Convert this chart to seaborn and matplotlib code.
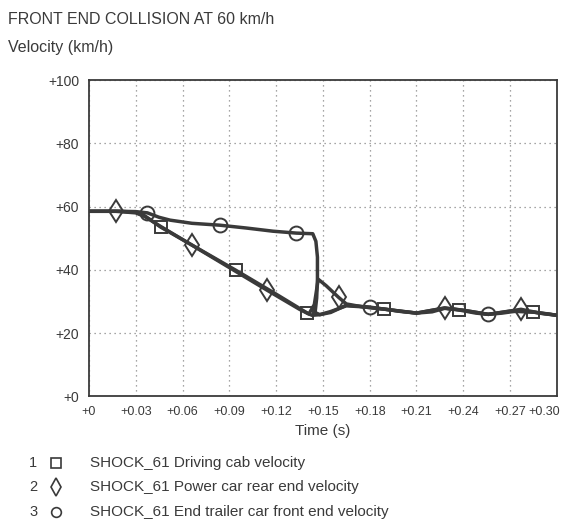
import numpy as np
import pandas as pd
import seaborn as sns
import matplotlib
matplotlib.use("Agg")
import matplotlib.pyplot as plt
from matplotlib.lines import Line2D
from matplotlib.transforms import ScaledTranslation

# Driving cab velocity (square markers)
t_cab = [0, 0.02, 0.03, 0.036, 0.046, 0.07, 0.094, 0.12, 0.140, 0.143, 0.148, 0.155,
         0.165, 0.175, 0.189, 0.20, 0.21, 0.22, 0.228, 0.237, 0.248, 0.256, 0.265,
         0.275, 0.285, 0.295, 0.30]
v_cab = [58.5, 58.5, 58.2, 57.0, 53.5, 46.7, 39.9, 32.3, 26.3, 25.6, 25.8, 26.8,
         28.6, 28.3, 27.6, 26.8, 26.3, 26.7, 27.8, 27.3, 26.3, 25.9, 26.3,
         27.0, 26.6, 26.0, 25.6]
mk_cab = [4, 6, 8, 14, 19, 24]

# Power car rear end velocity (diamond markers)
t_pc = [0, 0.0173, 0.03, 0.036, 0.045, 0.066, 0.09, 0.114, 0.135, 0.141, 0.1445,
        0.147, 0.152, 0.160, 0.165, 0.175, 0.19, 0.21, 0.228, 0.24, 0.256, 0.277,
        0.29, 0.30]
v_pc = [58.5, 58.5, 58.0, 56.8, 54.0, 47.8, 40.7, 33.6, 27.5, 26.0, 29.0,
        37.0, 35.0, 31.3, 29.2, 28.3, 27.5, 26.3, 27.9, 27.2, 25.9, 27.5,
        26.2, 25.6]
mk_pc = [1, 5, 7, 13, 18, 21]

# End trailer car front end velocity (circle markers)
t_tr = [0, 0.02, 0.03, 0.0375, 0.045, 0.052, 0.066, 0.084, 0.101, 0.118, 0.133,
        0.1435, 0.1455, 0.1465, 0.1465, 0.146, 0.145, 0.148, 0.155, 0.165, 0.180,
        0.19, 0.21, 0.228, 0.24, 0.256, 0.27, 0.285, 0.30]
v_tr = [58.5, 58.5, 58.4, 58.0, 56.6, 55.7, 54.7, 54.1, 53.2, 52.2, 51.6,
        51.4, 49.0, 44.0, 37.0, 31.0, 26.5, 25.8, 26.5, 28.8, 28.2,
        27.5, 26.3, 27.9, 27.2, 25.9, 26.9, 26.6, 25.6]
mk_tr = [3, 7, 10, 20, 25]

x_ticks = [0, 0.03, 0.06, 0.09, 0.12, 0.15, 0.18, 0.21, 0.24, 0.27, 0.30]
x_labels = ["+0", "+0.03", "+0.06", "+0.09", "+0.12", "+0.15", "+0.18",
            "+0.21", "+0.24", "+0.27", "+0.30"]
y_ticks = [0, 20, 40, 60, 80, 100]
y_labels = ["+0", "+20", "+40", "+60", "+80", "+100"]

legend_nums = ["1", "2", "3"]
legend_names = ["SHOCK_61 Driving cab velocity",
                "SHOCK_61 Power car rear end velocity",
                "SHOCK_61 End trailer car front end velocity"]

sns.set_style("white")
plt.rcParams["font.family"] = ["Liberation Sans", "DejaVu Sans"]

ink = "#3a3a3a"
fig = plt.figure(figsize=(5.7, 5.2), dpi=100)
ax = fig.add_axes([0.156, 0.238, 0.821, 0.608])

series = [(t_cab, v_cab, mk_cab, "s", 8.5),
          (t_pc, v_pc, mk_pc, "d", 11.5),
          (t_tr, v_tr, mk_tr, "o", 10)]

for t, v, mk, m, ms in series:
    df = pd.DataFrame({"t": t, "v": v})
    sns.lineplot(data=df, x="t", y="v", sort=False, estimator=None,
                 color=ink, lw=2.5, ax=ax)
    sub = df.iloc[mk]
    ax.plot(sub["t"], sub["v"], ls="none", marker=m, ms=ms, mfc="none",
            mec=ink, mew=1.4, zorder=5)

ax.set_xlim(0, 0.30)
ax.set_ylim(0, 100)
ax.set_xticks(x_ticks)
ax.set_xticklabels(x_labels)
ax.set_yticks(y_ticks)
ax.set_yticklabels(y_labels)
ax.tick_params(axis="x", length=0, labelsize=9, colors=ink, pad=7)
ax.tick_params(axis="y", length=0, labelsize=10, colors=ink, pad=7)
ax.grid(True, ls=(0, (1, 3)), color="#888888", lw=0.9)
for s in ax.spines.values():
    s.set_color(ink)
    s.set_linewidth(1.3)
ax.set_xlabel("Time (s)", fontsize=11, color=ink, labelpad=4)
ax.set_ylabel("")

# keep the last x label inside the picture
last = ax.get_xticklabels()[-1]
last.set_transform(last.get_transform() + ScaledTranslation(-9 / 72, 0, fig.dpi_scale_trans))

fig.text(0.014, 0.962, "FRONT END COLLISION AT 60 km/h", fontsize=11.5,
         color=ink, va="center")
fig.text(0.014, 0.908, "Velocity (km/h)", fontsize=11.5, color=ink, va="center")

leg_y = [0.1096, 0.0635, 0.0154]
leg_m = ["s", "d", "o"]
leg_ms = [7, 9, 7]
for y, num, name, m, ms in zip(leg_y, legend_nums, legend_names, leg_m, leg_ms):
    fig.text(0.058, y, num, fontsize=10.5, color=ink, va="center", ha="center")
    fig.add_artist(Line2D([0.098], [y], marker=m, ms=ms,
                          mfc="none", mec=ink, mew=1.2, ls="none",
                          transform=fig.transFigure))
    fig.text(0.158, y, name, fontsize=11, color=ink, va="center")

fig.savefig("out.png", dpi=100)
